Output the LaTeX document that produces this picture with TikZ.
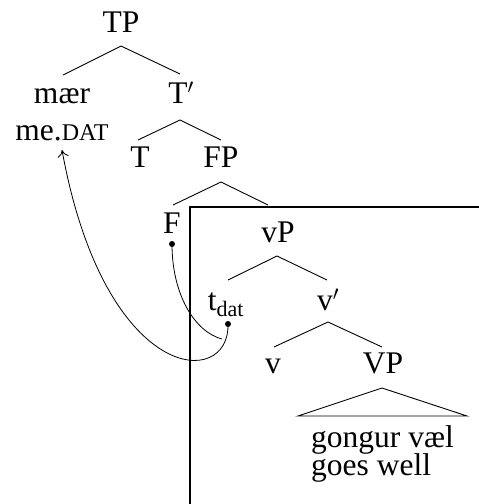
\documentclass[tikz,border=0pt]{standalone}
\usepackage{fontspec}
\setmainfont{Liberation Serif}
\usetikzlibrary{arrows.meta}
\begin{document}
\begin{tikzpicture}[x=1pt,y=-1pt,
  lbl/.style={anchor=base,inner sep=0pt,font=\fontsize{31.5}{36}\selectfont},
  br/.style={line width=0.9pt},
  mv/.style={line width=0.8pt},
  dotn/.style={circle,fill=black,inner sep=0pt,minimum size=6pt},
  boxl/.style={line width=1.8pt}]
\useasboundingbox (0,0) rectangle (479,504);
% box
\draw[boxl] (190,504) -- (190,207) -- (480,207);
% labels
\node[lbl] (TP) at (121,32) {TP};
\node[lbl] (maer) at (62,103) {mær};
\node[lbl] (medat) at (62,140) {me.{\fontsize{24}{28}\selectfont DAT}};
\node[lbl] (Tbar) at (181,103) {T$'$};
\node[lbl] (T) at (140,167) {T};
\node[lbl] (FP) at (221,167) {FP};
\node[lbl] (F) at (172,233) {F};
\node[lbl] (vP) at (278,242) {vP};
\node[lbl] (tdat) at (226,310) {$\mathrm{t}_{\mathrm{dat}}$};
\node[lbl] (vbar) at (328,310) {v$'$};
\node[lbl] (v) at (273,373) {v};
\node[lbl] (VP) at (383,373) {VP};
\node[lbl,anchor=base west,align=left,
  font={\fontsize{31.5}{28}\selectfont\setlength{\lineskiplimit}{-20pt}}] (gv) at (311,475) {gongur væl\\goes well};
% branches
\coordinate (aTP) at (121,46);
\draw[br] (63,75) -- (aTP) -- (180,74);
\coordinate (aTb) at (180,120);
\draw[br] (138,140) -- (aTb) -- (221,140);
\coordinate (aFP) at (221,182);
\draw[br] (173,205) -- (aFP) -- (268,205);
\coordinate (avP) at (277,256);
\draw[br] (228,280) -- (avP) -- (327,280);
\coordinate (avb) at (328,322);
\draw[br] (274,347) -- (avb) -- (382,347);
\coordinate (aVP) at (382,388);
\draw[br] (298,416) -- (aVP) -- (467,416) -- cycle;
% movement
\node[dotn] (dF) at (172,244) {};
\node[dotn] (dt) at (228,324) {};
\coordinate (join) at (222,339);
\coordinate (tip) at (62,150);
\draw[mv] (dF.center) .. controls (172,295) and (195,332) .. (join);
\draw[mv,-{Computer Modern Rightarrow[length=7pt,width=11pt]}] (dt.center) .. controls (230,390) and (105,385) .. (tip);
\end{tikzpicture}
\end{document}
